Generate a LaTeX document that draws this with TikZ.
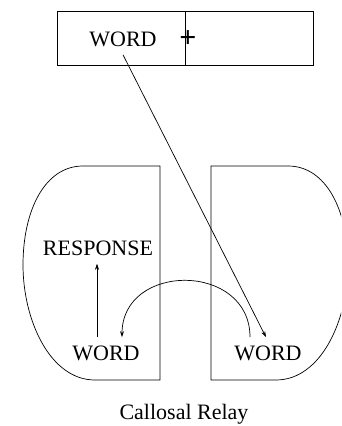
\documentclass[tikz,border=0pt]{standalone}
\usepackage{fontspec}
\setmainfont{Liberation Serif}
\usetikzlibrary{arrows.meta}

\begin{document}
\begin{tikzpicture}[x=1pt,y=-1pt,
  line width=0.7pt,
  txt/.style={font=\fontsize{22}{26}\selectfont,inner sep=8pt},
  arr/.style={-{Stealth[length=6pt,width=4pt]}}]
\useasboundingbox (0,0) rectangle (341,426);
\begin{scope}
\clip (0,0) rectangle (341,426);
% top box
\draw (57,11) rectangle (313,65);
\draw (185,11)--(185,65);
\node[txt] (wtop) at (123,39) {WORD};
\node[font=\fontsize{30}{34}\selectfont\bfseries,inner sep=0pt] (plus) at (188,39) {+};
% hemispheres
\draw (160,166)--(83,166) .. controls (45,166) and (23,210) .. (23,265)
  .. controls (23,320) and (50,380) .. (95,380)--(160,380)--cycle;
\draw (211,166)--(288,166) .. controls (326,166) and (348,210) .. (348,265)
  .. controls (348,320) and (321,380) .. (276,380)--(211,380)--cycle;
\end{scope}
\node[txt] (resp) at (98,248) {RESPONSE};
\node[txt] (wleft) at (106,353) {WORD};
\node[txt] (wright) at (268,353) {WORD};
\node[font=\fontsize{22}{26}\selectfont] (cap) at (184,414) {Callosal Relay};
% connections
\draw[arr] (wtop.south)--([xshift=-2pt]wright.north);
\draw[arr] ([xshift=-9pt]wleft.north)--([xshift=-1pt]resp.south);
\draw[arr] ([xshift=-18pt]wright.north) .. controls (250,262) and (122,262)
  .. ([xshift=16pt]wleft.north);
\end{tikzpicture}
\end{document}
